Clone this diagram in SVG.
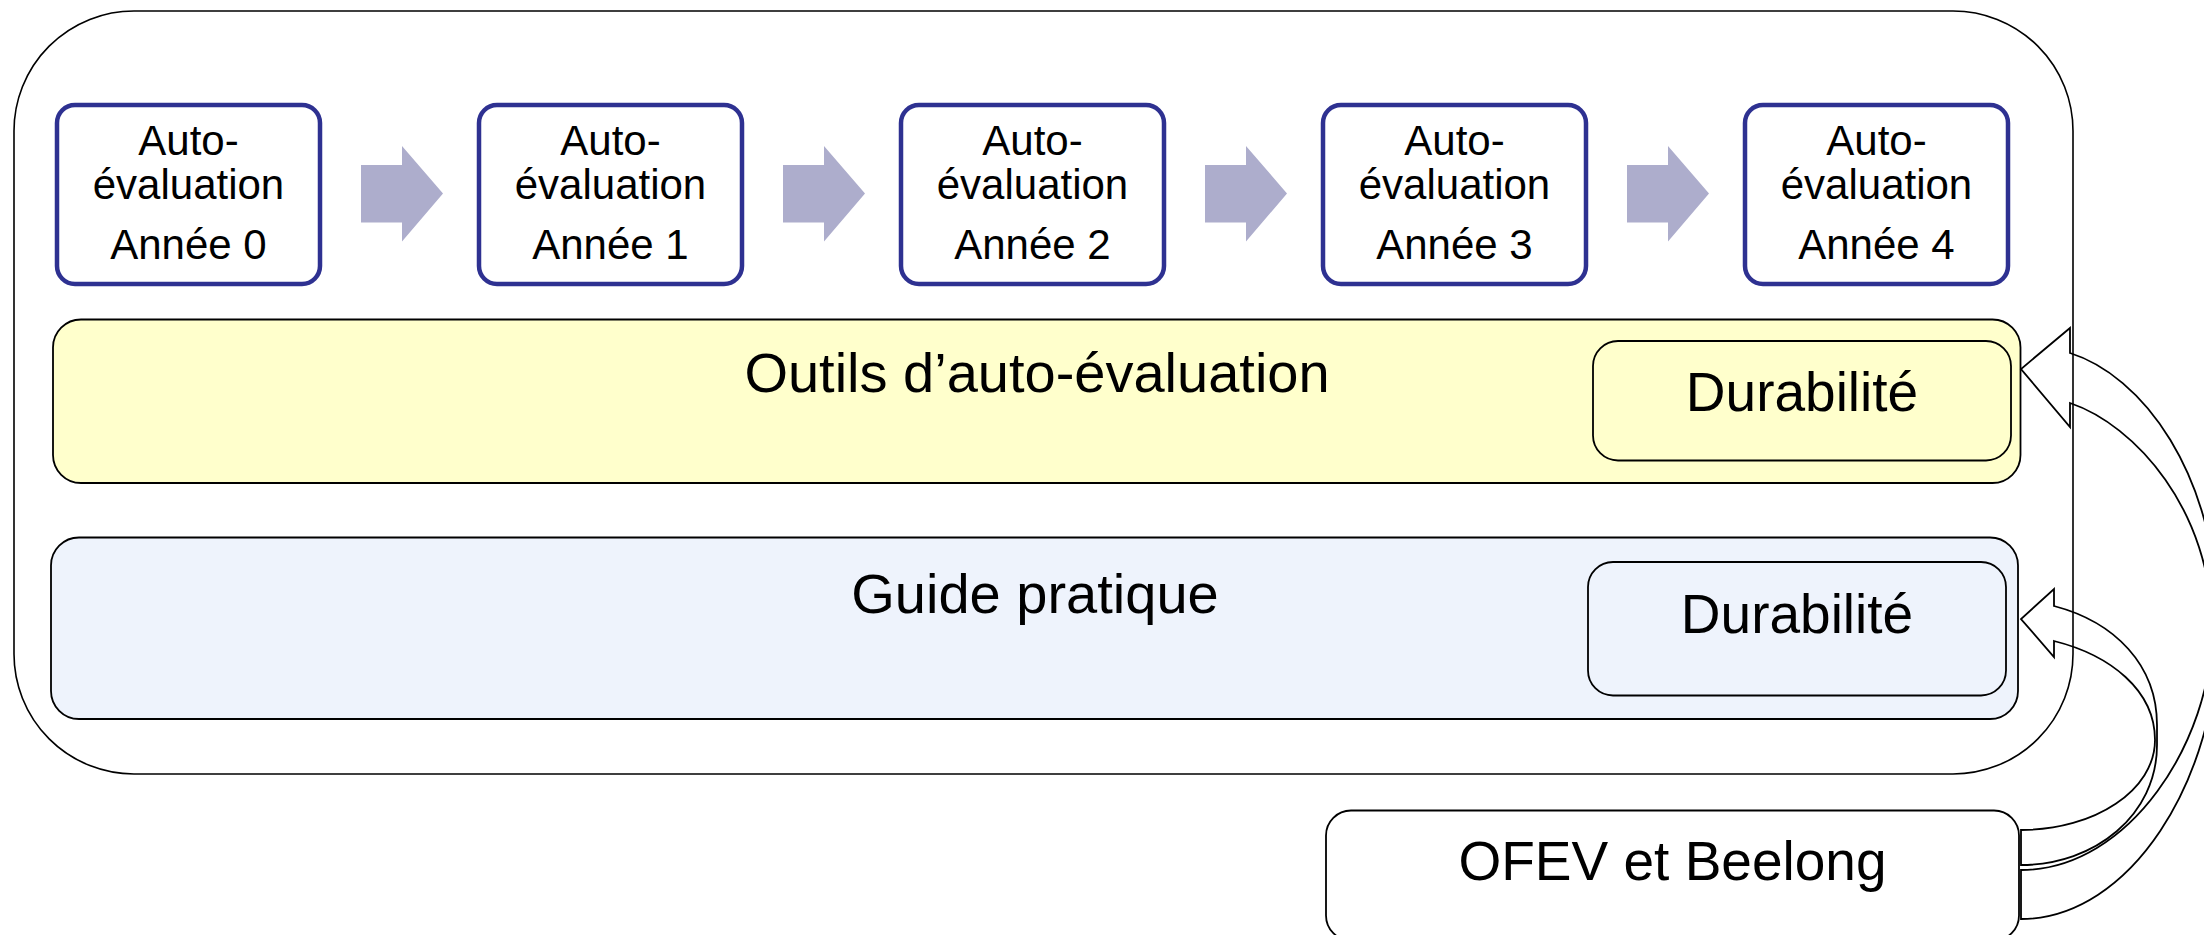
<svg xmlns="http://www.w3.org/2000/svg" width="2204" height="935" viewBox="0 0 2204 935">
<style>
text{font-family:"Liberation Sans",Arial,sans-serif;fill:#000;text-anchor:middle}
.yr{font-size:42px}
.big{font-size:56px}
.dur{font-size:55px}
.year rect{fill:#fff;stroke:#2E3191;stroke-width:4.5}
.step{fill:#ADADCC}
.line{stroke:#000;stroke-width:1.8}
.conn path{fill:none;stroke:#000;stroke-width:1.8;stroke-linejoin:miter}
</style>
<defs>
<polygon id="blk" class="step" points="0,22 41,22 41,3 82,50.5 41,98.5 41,79.5 0,79.5"/>
</defs>
<g id="container"><rect x="14" y="11" width="2059" height="763" rx="120" ry="120" fill="#fff" stroke="#000" stroke-width="1.6"/></g>

<g id="year0" class="year"><rect x="57" y="105" width="263" height="179" rx="18"/><text class="yr" x="188.5" y="155">Auto-</text><text class="yr" x="188.5" y="199">évaluation</text><text class="yr" x="188.5" y="259">Année 0</text></g>
<g id="year1" class="year"><rect x="479" y="105" width="263" height="179" rx="18"/><text class="yr" x="610.5" y="155">Auto-</text><text class="yr" x="610.5" y="199">évaluation</text><text class="yr" x="610.5" y="259">Année 1</text></g>
<g id="year2" class="year"><rect x="901" y="105" width="263" height="179" rx="18"/><text class="yr" x="1032.5" y="155">Auto-</text><text class="yr" x="1032.5" y="199">évaluation</text><text class="yr" x="1032.5" y="259">Année 2</text></g>
<g id="year3" class="year"><rect x="1323" y="105" width="263" height="179" rx="18"/><text class="yr" x="1454.5" y="155">Auto-</text><text class="yr" x="1454.5" y="199">évaluation</text><text class="yr" x="1454.5" y="259">Année 3</text></g>
<g id="year4" class="year"><rect x="1745" y="105" width="263" height="179" rx="18"/><text class="yr" x="1876.5" y="155">Auto-</text><text class="yr" x="1876.5" y="199">évaluation</text><text class="yr" x="1876.5" y="259">Année 4</text></g>

<g id="steps">
<use href="#blk" x="361" y="143"/>
<use href="#blk" x="783" y="143"/>
<use href="#blk" x="1205" y="143"/>
<use href="#blk" x="1627" y="143"/>
</g>

<g id="outils"><rect class="line" x="53" y="319.5" width="1967.5" height="163.5" rx="28" fill="#FFFFCC"/><text class="big" x="1037" y="392">Outils d’auto-évaluation</text></g>
<g id="durabilite1"><rect class="line" x="1593" y="341" width="418" height="119.5" rx="25" fill="#FFFFCC"/><text class="dur" x="1802" y="411">Durabilité</text></g>

<g id="guide"><rect class="line" x="51" y="537.5" width="1967" height="181.5" rx="28" fill="#EEF3FC"/><text class="big" x="1035" y="613">Guide pratique</text></g>
<g id="durabilite2"><rect class="line" x="1588" y="562" width="418" height="133.5" rx="25" fill="#EEF3FC"/><text class="dur" x="1797" y="633">Durabilité</text></g>

<g id="ofev"><rect class="line" x="1326" y="810.5" width="693" height="130" rx="25" fill="#fff"/><text class="dur" x="1672.5" y="880">OFEV et Beelong</text></g>

<g id="connectors" class="conn">
<path d="M2021,919 C2130,919 2218,780 2218,630 C2218,470 2140,375 2070,353 L2070,328 L2021,369 L2070,427 L2070,403 C2135,425 2212,510 2212,630 C2212,740 2130,870 2021,870 Z"/>
<path d="M2021,865 C2095,865 2157,815 2157,745 L2157,725 C2157,665 2115,622 2054,606 L2054,589 L2021,619 L2054,657 L2054,641 C2110,655 2155,690 2155,740 C2155,790 2095,830 2021,830 Z"/>
</g>
</svg>
